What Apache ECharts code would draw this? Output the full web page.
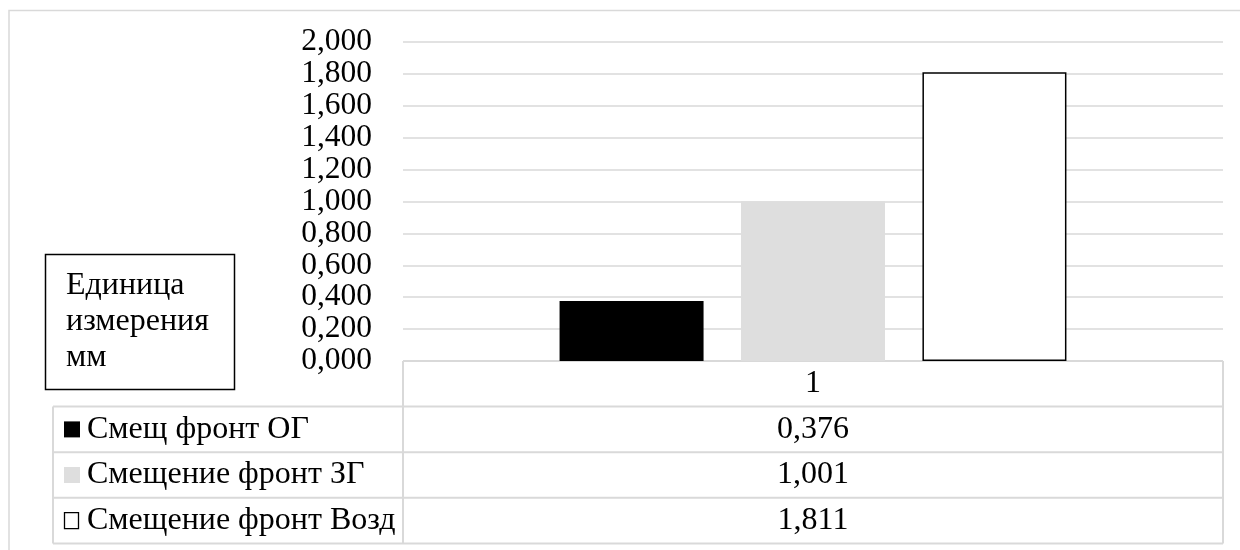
<!DOCTYPE html>
<html>
<head>
<meta charset="utf-8">
<script src="https://cdn.jsdelivr.net/npm/echarts@6/dist/echarts.min.js"></script>
<style>
  html, body { margin: 0; padding: 0; background: #ffffff; }
  #chart { width: 1240px; height: 550px; }
</style>
</head>
<body>
<div id="chart"></div>
<script>
// Data
const categories = ['1'];
const seriesNames = ['Смещ фронт ОГ', 'Смещение фронт ЗГ', 'Смещение фронт Возд'];
const ogValues = [0.376];
const zgValues = [1.001];
const vozdValues = [1.811];
const unitLines = ['Единица', 'измерения', 'мм'];
const yMin = 0;
const yMax = 2;
const yStep = 0.2;

// Style
const FONT = 'Liberation Serif, Times New Roman, serif';
const FS = 32;
const TICK_FS = 31.5;
const GRID_COLOR = '#d9d9d9';
const barColors = ['#000000', '#dedede', '#ffffff'];
const seriesValues = [ogValues, zgValues, vozdValues];

const fmt = v => v.toFixed(3).replace('.', ',');

const grid = { left: 403, right: 17, top: 42, bottom: 189 };
const ROW_H = 45.6;
const TABLE_LEFT = 53;

const chart = echarts.init(document.getElementById('chart'), null, { renderer: 'canvas' });

const series = seriesNames.map((name, i) => ({
  name: name,
  type: 'bar',
  data: seriesValues[i],
  barWidth: 144,
  barGap: '26%',
  itemStyle: {
    color: barColors[i],
    borderColor: i === 2 ? '#000000' : barColors[i],
    borderWidth: i === 2 ? 1.5 : 0
  },
  silent: true
}));

chart.setOption({
  animation: false,
  backgroundColor: '#ffffff',
  grid: grid,
  xAxis: {
    type: 'category',
    data: categories,
    axisLine: { show: false },
    axisTick: { show: false },
    axisLabel: { show: false }
  },
  yAxis: {
    type: 'value',
    min: yMin,
    max: yMax,
    interval: yStep,
    axisLine: { show: false },
    axisTick: { show: false },
    axisLabel: {
      formatter: v => fmt(v),
      color: '#000000',
      fontFamily: FONT,
      fontSize: TICK_FS,
      margin: 31
    },
    splitLine: { lineStyle: { color: GRID_COLOR, width: 1.5 } }
  },
  series: series
});

// Data table under the plot, plus the unit box and chart frame
function buildGraphics() {
  const plotRight = 1240 - grid.right;
  const zeroY = chart.convertToPixel({ yAxisIndex: 0 }, 0);
  const colLeft = grid.left;
  const catX = chart.convertToPixel({ xAxisIndex: 0 }, categories[0]);
  const items = [];
  const line = (x1, y1, x2, y2) => ({
    type: 'line', silent: true,
    shape: { x1, y1, x2, y2 },
    style: { stroke: GRID_COLOR, lineWidth: 2 }
  });
  const text = (x, y, str, align) => ({
    type: 'text', silent: true, x, y,
    style: {
      text: str, fill: '#000000', font: FS + 'px ' + FONT,
      textAlign: align, textVerticalAlign: 'middle'
    }
  });

  // chart frame
  items.push({
    type: 'rect', silent: true,
    shape: { x: 9, y: 10.5, width: 1300, height: 600 },
    style: { fill: 'none', stroke: GRID_COLOR, lineWidth: 1.5 }
  });

  const bottomY = zeroY + ROW_H * (seriesNames.length + 1);
  // category header row
  items.push(line(colLeft, zeroY, plotRight, zeroY));
  items.push(text(catX, zeroY + ROW_H / 2, categories[0], 'center'));
  // vertical borders
  items.push(line(colLeft, zeroY, colLeft, bottomY));
  items.push(line(plotRight, zeroY, plotRight, bottomY));
  items.push(line(TABLE_LEFT, zeroY + ROW_H, TABLE_LEFT, bottomY));

  seriesNames.forEach((name, i) => {
    const top = zeroY + ROW_H * (i + 1);
    const cy = top + ROW_H / 2;
    items.push(line(TABLE_LEFT, top, plotRight, top));
    // legend key
    if (i === 2) {
      items.push({
        type: 'rect', silent: true,
        shape: { x: 64.5, y: cy - 8, width: 14, height: 16 },
        style: { fill: '#ffffff', stroke: '#000000', lineWidth: 1.3 }
      });
    } else {
      items.push({
        type: 'rect', silent: true,
        shape: { x: 64, y: cy - 8, width: 16, height: 16 },
        style: { fill: barColors[i] }
      });
    }
    items.push(text(87, cy, name, 'left'));
    items.push(text(catX, cy, fmt(seriesValues[i][0]), 'center'));
  });
  items.push(line(TABLE_LEFT, bottomY, plotRight, bottomY));

  // unit box
  items.push({
    type: 'rect', silent: true,
    shape: { x: 45.5, y: 254.5, width: 189, height: 135 },
    style: { fill: '#ffffff', stroke: '#000000', lineWidth: 1.5 }
  });
  unitLines.forEach((s, i) => {
    items.push(text(66, 286 + i * 36, s, 'left'));
  });

  chart.setOption({ graphic: items });
}
buildGraphics();
</script>
</body>
</html>
